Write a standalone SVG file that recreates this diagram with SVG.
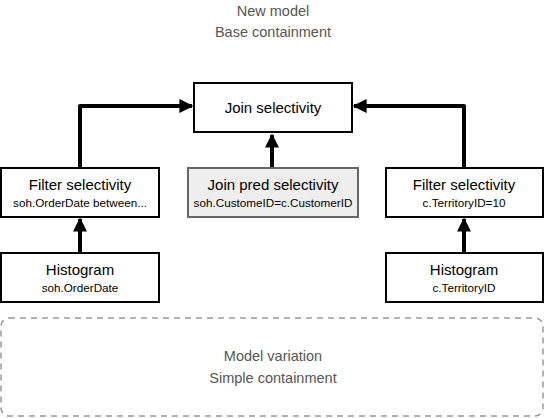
<svg xmlns="http://www.w3.org/2000/svg" width="545" height="418" viewBox="0 0 545 418">
<style>
.box{fill:#fff;stroke:#000;stroke-width:2}
.gbox{fill:#eeeeee;stroke:#666;stroke-width:2}
.t{font-family:"Liberation Sans",Arial,sans-serif;font-size:15px;fill:#000;text-anchor:middle}
.s{font-family:"Liberation Sans",Arial,sans-serif;font-size:11.7px;fill:#000;text-anchor:middle}
.g{font-family:"Liberation Sans",Arial,sans-serif;font-size:14.5px;fill:#555;text-anchor:middle}
.c{fill:none;stroke:#000;stroke-width:4;stroke-linejoin:round}
</style>
<defs>
<marker id="ah" viewBox="0 0 10 10" refX="9" refY="5" markerWidth="3.5" markerHeight="3.5" orient="auto" markerUnits="strokeWidth">
<path d="M0,0 L10,5 L0,10 z" fill="#000"/>
</marker>
</defs>
<g id="title">
<text class="g" x="273" y="16">New model</text>
<text class="g" x="273" y="37">Base containment</text>
</g>
<g id="variation">
<rect x="1" y="318" width="542" height="98" rx="8" fill="none" stroke="#999" stroke-width="1.5" stroke-dasharray="6,5"/>
<text class="g" x="273" y="361">Model variation</text>
<text class="g" x="273" y="383">Simple containment</text>
</g>
<g id="connectors">
<path class="c" d="M80,168 V106 H192" marker-end="url(#ah)"/>
<path class="c" d="M464,168 V106 H354" marker-end="url(#ah)"/>
<path class="c" d="M272,168 V135" marker-end="url(#ah)"/>
<path class="c" d="M80,253 V219" marker-end="url(#ah)"/>
<path class="c" d="M464,253 V219" marker-end="url(#ah)"/>
</g>
<g id="join">
<rect class="box" x="194" y="83" width="158" height="49"/>
<text class="t" x="273" y="113">Join selectivity</text>
</g>
<g id="filterL">
<rect class="box" x="1" y="168" width="158" height="49"/>
<text class="t" x="80" y="190">Filter selectivity</text>
<text class="s" x="80" y="207">soh.OrderDate between...</text>
</g>
<g id="joinpred">
<rect class="gbox" x="188" y="168" width="170" height="49"/>
<text class="t" x="273" y="190">Join pred selectivity</text>
<text class="s" x="273" y="207">soh.CustomeID=c.CustomerID</text>
</g>
<g id="filterR">
<rect class="box" x="386" y="168" width="157" height="49"/>
<text class="t" x="464" y="190">Filter selectivity</text>
<text class="s" x="464" y="207">c.TerritoryID=10</text>
</g>
<g id="histL">
<rect class="box" x="1" y="253" width="158" height="49"/>
<text class="t" x="80" y="275">Histogram</text>
<text class="s" x="80" y="292">soh.OrderDate</text>
</g>
<g id="histR">
<rect class="box" x="386" y="253" width="157" height="49"/>
<text class="t" x="464" y="275">Histogram</text>
<text class="s" x="464" y="292">c.TerritoryID</text>
</g>
</svg>
